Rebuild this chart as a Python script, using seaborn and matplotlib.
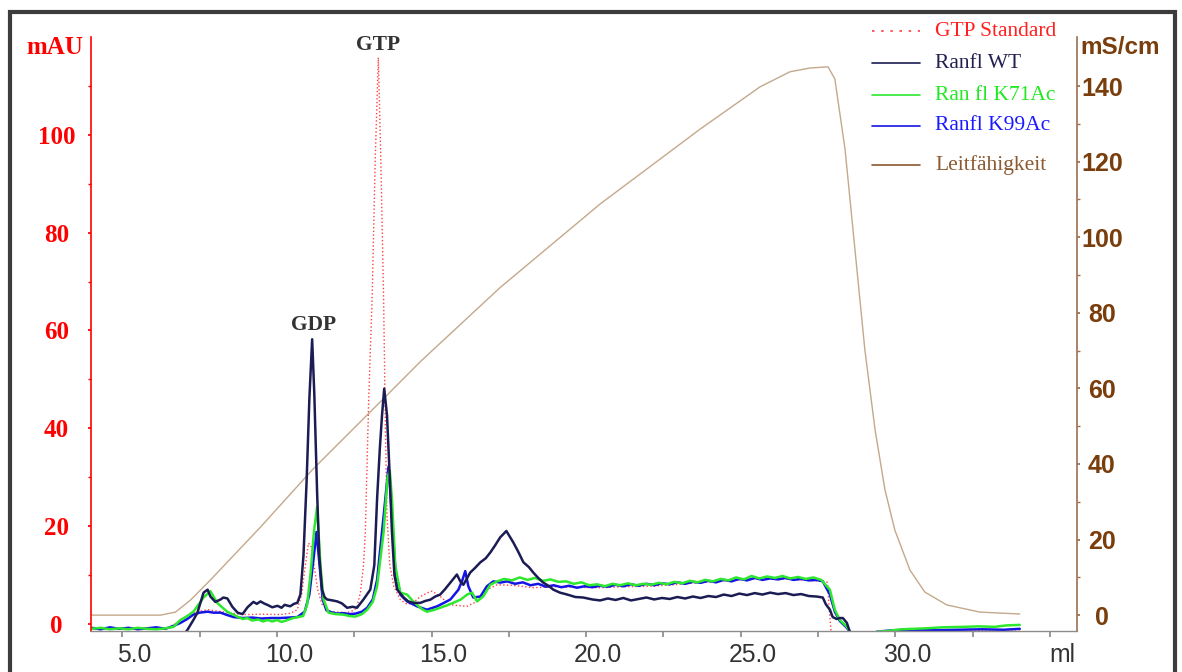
import matplotlib
matplotlib.use("Agg")
import matplotlib.pyplot as plt
import matplotlib.transforms as mtransforms
from matplotlib.lines import Line2D
from matplotlib.patches import Rectangle
import seaborn as sns

# ---- data (ml, mAU / mS/cm) ----
wt_ml = [4.0, 6.9, 7.05, 7.11, 7.30, 7.43, 7.63, 7.76, 7.85, 8.01,
         8.18, 8.27, 8.40, 8.56, 8.73, 8.89, 9.05, 9.24, 9.35, 9.47,
         9.58, 9.69, 9.85, 10.02, 10.15, 10.25, 10.43, 10.55, 10.66, 10.76,
         10.86, 10.96, 11.05, 11.14, 11.21, 11.30, 11.37, 11.46, 11.54, 11.62,
         11.80, 11.95, 12.10, 12.27, 12.45, 12.59, 12.80, 13.02, 13.15, 13.24,
         13.33, 13.40, 13.47, 13.56, 13.65, 13.72, 13.80, 13.89, 14.10, 14.25,
         14.41, 14.64, 14.80, 14.96, 15.12, 15.28, 15.45, 15.61, 15.82, 15.93,
         16.03, 16.25, 16.40, 16.58, 16.75, 16.90, 17.05, 17.22, 17.42, 17.64,
         17.80, 17.97, 18.15, 18.29, 18.45, 18.61, 18.78, 18.94, 19.15, 19.39,
         19.65, 19.90, 20.2, 20.45, 20.7, 20.95, 21.2, 21.45, 21.7, 21.95,
         22.2, 22.45, 22.7, 22.95, 23.2, 23.45, 23.7, 23.95, 24.2, 24.45,
         24.7, 24.95, 25.2, 25.45, 25.7, 25.95, 26.2, 26.45, 26.7, 26.95,
         27.2, 27.45, 27.65, 27.75, 27.88, 27.97, 28.10, 28.20, 28.30, 28.43,
         28.53, 28.65, 34.0]
wt_mau = [-4, -4, -1.7, -1.2, 0.8, 2.3, 6.4, 7.0, 5.6, 4.5,
          5.0, 5.4, 5.2, 3.5, 2.3, 2.0, 3.4, 4.5, 4.1, 4.6,
          4.2, 3.9, 3.4, 3.7, 3.3, 3.9, 3.6, 4.1, 4.3, 6.0,
          14, 29, 46, 58.2, 47, 27, 14, 7.0, 5.5, 5.0,
          4.8, 4.6, 4.2, 3.3, 3.5, 3.3, 5.0, 7.0, 12, 25.6,
          36, 42.7, 48.1, 42.7, 30, 18.8, 10, 7.0, 5.4, 4.6,
          4.3, 4.3, 4.7, 4.95, 5.6, 6.0, 7.2, 8.45, 10.1, 8.7,
          8.0, 10.5, 11.4, 12.6, 13.4, 14.6, 16.0, 17.7, 19.0, 16.7,
          14.8, 12.6, 11.6, 10.5, 9.4, 8.45, 7.8, 7.0, 6.4, 6.0,
          5.5, 5.4, 5.0, 4.8, 5.2, 4.9, 5.3, 4.8, 5.1, 5.4,
          5.0, 5.3, 5.1, 5.5, 5.2, 5.6, 5.3, 5.7, 5.5, 6.0,
          5.7, 6.2, 5.9, 6.3, 6.0, 6.4, 6.1, 6.3, 5.9, 6.1,
          5.7, 5.6, 5.4, 4.0, 2.9, 1.4, 1.0, 1.2, 1.2, 0.2,
          -1.7, -4, -4]

k71_ml = [4.0, 4.3, 4.6, 4.9, 5.2, 5.5, 5.8, 6.1, 6.4, 6.66,
          6.88, 7.10, 7.30, 7.63, 7.85, 8.07, 8.39, 8.72, 8.9, 9.04,
          9.2, 9.4, 9.55, 9.7, 9.85, 10.0, 10.15, 10.3, 10.53, 10.85,
          10.98, 11.10, 11.20, 11.30, 11.41, 11.51, 11.67, 11.9, 12.15, 12.35,
          12.54, 12.75, 12.92, 13.10, 13.24, 13.45, 13.58, 13.65, 13.72, 13.83,
          13.99, 14.21, 14.38, 14.53, 14.70, 14.85, 15.05, 15.28, 15.50, 15.70,
          15.95, 16.15, 16.31, 16.47, 16.67, 16.90, 17.12, 17.35, 17.6, 17.85,
          18.1, 18.35, 18.6, 18.85, 19.1, 19.35, 19.6, 19.85, 20.1, 20.35,
          20.6, 20.85, 21.1, 21.35, 21.6, 21.85, 22.1, 22.35, 22.6, 22.85,
          23.1, 23.35, 23.6, 23.85, 24.1, 24.35, 24.6, 24.85, 25.1, 25.35,
          25.6, 25.85, 26.1, 26.35, 26.6, 26.85, 27.1, 27.35, 27.6, 27.88,
          28.04, 28.20, 28.43, 28.53, 28.65, 29.30, 29.40, 29.8, 30.2, 30.57,
          31.0, 31.5, 32.2, 32.7, 33.2, 33.6, 34.02]
k71_mau = [-1.0, -0.8, -1.1, -0.9, -1.1, -0.8, -1.0, -1.1, -0.9, -0.6,
           0.8, 1.6, 2.5, 5.4, 6.7, 4.3, 2.5, 1.5, 1.0, 1.2,
           0.7, 0.9, 0.5, 0.8, 0.5, 0.8, 0.4, 0.7, 1.2, 1.6,
           4.0, 11, 19, 23.9, 11.8, 5.0, 2.3, 2.0, 1.9, 1.6,
           1.5, 2.0, 2.9, 4.5, 7.7, 18.8, 30, 31.4, 25.6, 11.8,
           6.4, 6.0, 4.8, 3.9, 3.0, 2.5, 2.8, 3.3, 3.8, 4.3,
           5.0, 6.0, 6.4, 4.6, 5.6, 8.0, 8.7, 9.2, 8.9, 9.5,
           9.0, 9.4, 8.8, 9.1, 8.6, 8.7, 8.2, 8.5, 7.9, 8.1,
           7.7, 8.2, 7.9, 8.3, 7.9, 8.2, 8.0, 8.4, 8.1, 8.6,
           8.3, 8.8, 8.5, 9.0, 8.7, 9.2, 8.9, 9.5, 9.1, 9.8,
           9.3, 9.7, 9.4, 9.8, 9.3, 9.6, 9.2, 9.5, 9.0, 7.0,
           2.9, 0.8, -0.6, -1.6, -4, -4, -1.6, -1.4, -1.1, -1.0,
           -0.9, -0.7, -0.6, -0.5, -0.6, -0.3, -0.2]

k99_ml = [4.0, 4.3, 4.6, 4.9, 5.2, 5.5, 5.8, 6.1, 6.4, 6.66,
          6.88, 7.10, 7.30, 7.50, 7.76, 7.95, 8.18, 8.40, 8.60, 8.9,
          9.2, 9.5, 9.8, 10.11, 10.4, 10.66, 10.90, 11.05, 11.18, 11.28,
          11.38, 11.48, 11.60, 11.75, 11.95, 12.15, 12.35, 12.54, 12.75, 12.92,
          13.10, 13.24, 13.45, 13.61, 13.70, 13.83, 13.99, 14.21, 14.53, 14.85,
          15.18, 15.40, 15.61, 15.87, 16.00, 16.09, 16.19, 16.35, 16.58, 16.79,
          17.00, 17.22, 17.45, 17.7, 17.95, 18.2, 18.45, 18.7, 18.95, 19.2,
          19.45, 19.7, 19.95, 20.2, 20.45, 20.7, 20.95, 21.2, 21.45, 21.7,
          21.95, 22.2, 22.45, 22.7, 22.95, 23.2, 23.45, 23.7, 23.95, 24.2,
          24.45, 24.7, 24.95, 25.2, 25.45, 25.7, 25.95, 26.2, 26.45, 26.7,
          26.95, 27.2, 27.45, 27.65, 27.88, 28.04, 28.20, 28.43, 28.53, 28.65,
          29.30, 29.40, 29.9, 30.5, 31.2, 32.0, 32.8, 33.5, 34.02]
k99_mau = [-0.8, -1.1, -0.7, -1.0, -0.8, -1.1, -0.9, -0.7, -1.0, -0.4,
           0.2, 1.0, 1.9, 2.3, 2.5, 2.3, 2.3, 1.8, 1.4, 1.2,
           1.3, 1.1, 1.2, 1.2, 1.3, 1.4, 2.5, 6.0, 13, 18.8,
           12, 5.0, 2.8, 2.4, 2.1, 2.2, 2.0, 2.1, 2.5, 3.3,
           5.0, 9.0, 22, 32.2, 24, 11, 6.0, 4.6, 3.6, 2.9,
           3.6, 4.3, 5.0, 7.0, 9.0, 10.8, 7.7, 5.4, 5.6, 7.7,
           8.7, 8.45, 8.7, 8.2, 8.5, 7.9, 8.2, 7.6, 7.9, 7.5,
           7.8, 7.4, 7.7, 7.5, 7.8, 7.6, 8.0, 7.7, 8.1, 7.8,
           8.2, 7.9, 8.3, 8.1, 8.5, 8.2, 8.6, 8.4, 8.8, 8.5,
           9.0, 8.7, 9.2, 8.9, 9.4, 9.0, 9.3, 9.1, 9.4, 9.0,
           9.2, 8.9, 9.0, 8.7, 6.0, 2.5, 0.6, -0.8, -1.7, -4,
           -4, -1.6, -1.3, -1.2, -1.3, -1.2, -1.1, -1.2, -1.0]

gtp_ml = [4.0, 6.5, 6.66, 6.88, 7.20, 7.43, 7.76, 8.1, 8.40, 8.8,
          9.05, 9.5, 10.11, 10.45, 10.66, 10.80, 10.92, 11.02, 11.10, 11.20,
          11.32, 11.46, 11.73, 12.0, 12.27, 12.50, 12.59, 12.70, 12.80, 12.86,
          12.97, 13.08, 13.18, 13.28, 13.36, 13.45, 13.51, 13.56, 13.65, 13.78,
          13.99, 14.21, 14.40, 14.64, 14.85, 15.02, 15.28, 15.61, 16.15, 16.47,
          16.79, 17.12, 17.6, 18.29, 19.0, 19.6, 20.45, 21.2, 22.07, 22.8,
          23.68, 24.5, 25.62, 26.3, 26.92, 27.4, 27.70, 27.80, 27.86, 27.95,
          29.40, 30.5, 31.5, 32.5, 33.5, 34.02]
gtp_mau = [-1.0, -0.9, -0.2, 0.8, 1.8, 2.5, 2.9, 2.6, 2.3, 2.0,
           1.9, 2.0, 1.9, 2.2, 2.9, 6.0, 12, 16.5, 16, 12,
           7.0, 4.0, 2.5, 2.4, 2.3, 2.8, 3.5, 6.4, 12, 18.8,
           46.2, 66.8, 95, 115.8, 95, 66.8, 39.4, 22.1, 12, 7.7,
           4.95, 4.0, 4.3, 5.6, 6.3, 6.7, 5.6, 3.9, 3.6, 4.6,
           7.0, 8.0, 7.9, 7.4, 7.6, 7.5, 7.4, 7.6, 7.7, 8.0,
           8.5, 8.8, 9.3, 9.2, 9.0, 8.8, 8.7, 8.5, 3.0, -4,
           -1.6, -1.5, -1.4, -1.3, -1.3, -1.2]

cond_ml = [3.98, 6.24, 6.72, 7.21, 7.85, 9.47, 11.15, 13.51, 14.64, 17.22,
           20.45, 23.68, 25.62, 26.59, 27.24, 27.82, 28.04, 28.37, 28.69, 29.01,
           29.34, 29.66, 29.98, 30.47, 30.95, 31.66, 32.73, 34.02]
cond_ms = [0.0, 0.0, 0.8, 4.0, 9.3, 23.3, 38.5, 57.8, 67.1, 86.7,
           108.8, 128.6, 139.8, 143.8, 144.8, 145.1, 141.9, 123.3, 96.8, 70.3,
           49.1, 33.2, 22.5, 11.9, 6.1, 2.7, 0.8, 0.3]

x_ticks = [5, 7.5, 10, 12.5, 15, 17.5, 20, 22.5, 25, 27.5, 30, 32.5, 35]
x_labels = ['5.0', '', '10.0', '', '15.0', '', '20.0', '', '25.0', '', '30.0', '', 'ml']
mau_ticks = [0, 20, 40, 60, 80, 100]
ms_ticks = [0, 20, 40, 60, 80, 100, 120, 140]

RED = '#ff0000'
NAVY = '#1c1c55'
GREEN = '#2ee82e'
BLUE = '#1414e6'
GTP_RED = '#ff4040'
COND = '#c4a88c'
BROWN = '#7a3d0c'

sns.set_theme(style="white")
plt.rcParams['font.family'] = ['Liberation Serif', 'DejaVu Serif']

W, H = 1182, 672
fig = plt.figure(figsize=(W / 100, H / 100), dpi=100)
ax = fig.add_axes([90.7 / W, 1 - 631 / H, (1077 - 90.7) / W, (631 - 37) / H])
ax2 = ax.twinx()
ax.set_zorder(ax2.get_zorder() + 1)
ax.patch.set_visible(False)

sns.lineplot(x=cond_ml, y=cond_ms, ax=ax2, color=COND, lw=1.0, estimator=None, sort=False)
sns.lineplot(x=gtp_ml, y=gtp_mau, ax=ax, color=GTP_RED, lw=1.0, linestyle=':', estimator=None, sort=False)
sns.lineplot(x=k99_ml, y=k99_mau, ax=ax, color=BLUE, lw=1.8, estimator=None, sort=False)
sns.lineplot(x=k71_ml, y=k71_mau, ax=ax, color=GREEN, lw=1.8, estimator=None, sort=False)
sns.lineplot(x=wt_ml, y=wt_mau, ax=ax, color=NAVY, lw=1.8, estimator=None, sort=False)

ax.set_xlim(3.98, 35.87)
ax.set_ylim(-1.45, 120)
ax2.set_ylim(-4.2, 153)

# x axis
ax.set_xticks(x_ticks)
ax.set_xticklabels(x_labels, family='Liberation Sans', fontsize=17.8, color='#333333')
ax.tick_params(axis='x', direction='out', length=4, color='#8c8c8c', pad=5, bottom=True)
offset = mtransforms.ScaledTranslation(12 / 100, 0, fig.dpi_scale_trans)
for lab in ax.get_xticklabels():
    lab.set_transform(lab.get_transform() + offset)

# left axis (mAU)
ax.set_yticks(mau_ticks)
ax.set_yticks([10, 30, 50, 70, 90, 110], minor=True)
ax.set_yticklabels([str(t) for t in mau_ticks], fontweight='bold', fontsize=18,
                   color=RED, ha='center')
ax.tick_params(axis='y', which='both', direction='out', length=2.5, color=RED,
               pad=22, left=True)
ax.set_xlabel('')
ax.set_ylabel('')

# right axis (mS/cm)
ax2.set_yticks(ms_ticks)
ax2.set_yticks([10, 30, 50, 70, 90, 110, 130], minor=True)
ax2.set_yticklabels([str(t) for t in ms_ticks], fontweight='bold', fontsize=18,
                    color=BROWN, ha='center', family='Liberation Sans')
ax2.tick_params(axis='y', which='both', direction='out', length=2.5, color='#9a7050',
                pad=15.5, right=True)
ax2.set_ylabel('')
ax2.grid(False)
ax.grid(False)

for s in ['top', 'right']:
    ax.spines[s].set_visible(False)
for s in ['top', 'left', 'bottom']:
    ax2.spines[s].set_visible(False)
ax.spines['left'].set_color(RED)
ax.spines['left'].set_linewidth(1.2)
ax.spines['bottom'].set_color('#8c8c8c')
ax.spines['bottom'].set_linewidth(1.0)
ax2.spines['right'].set_color('#9a7050')
ax2.spines['right'].set_linewidth(1.2)

# axis unit labels
fig.text(55 / W, 1 - 47 / H, 'mAU', color=RED, fontsize=18, fontweight='bold',
         ha='center', va='center')
fig.text(1120 / W, 1 - 47 / H, 'mS/cm', color=BROWN, fontsize=17.5, fontweight='bold',
         ha='center', va='center', family='Liberation Sans')

# peak annotations
ax.text(11.18, 61.2, 'GDP', ha='center', va='center', fontsize=15.5,
        fontweight='bold', color='#333333')
ax.text(13.28, 118.3, 'GTP', ha='center', va='center', fontsize=15.5,
        fontweight='bold', color='#333333', clip_on=False)

# legend, drawn by hand like the original software
legend_rows = [
    (31, 'GTP Standard', '#ff2020', GTP_RED, (0, (1.5, 4))),
    (63, 'Ranfl WT', '#22204e', NAVY, '-'),
    (95, 'Ran fl K71Ac', '#22e822', GREEN, '-'),
    (126, 'Ranfl K99Ac', '#1a1aff', BLUE, '-'),
    (165, 'Leitfähigkeit', '#8b5a30', '#8b5a30', '-'),
]
for y, txt, tcol, lcol, ls in legend_rows:
    fig.add_artist(Line2D([872 / W, 920 / W], [1 - y / H, 1 - y / H],
                          transform=fig.transFigure, color=lcol, lw=1.2, ls=ls))
    fig.text(935 / W, 1 - y / H, txt, color=tcol, fontsize=15.5, ha='left', va='center')

# outer frame (bottom edge cut off in the original)
fig.add_artist(Rectangle((10 / W, -0.05), (1175 - 10) / W, 1.05 - 12 / H,
                         transform=fig.transFigure, fill=False, lw=3, ec='#3c3c3c'))

fig.savefig('out.png', dpi=100)
